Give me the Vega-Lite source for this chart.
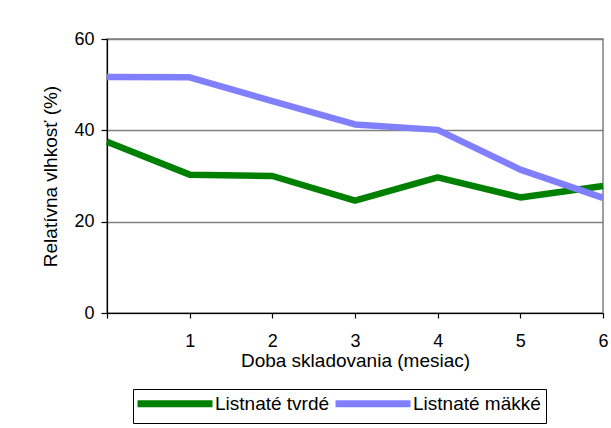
{
  "$schema": "https://vega.github.io/schema/vega-lite/v6.json",
  "width": 496,
  "height": 274,
  "autosize": {"type": "none"},
  "padding": {"left": 107, "top": 39, "right": 8, "bottom": 115},
  "background": "white",
  "config": {
    "font": "Liberation Sans",
    "view": {"stroke": "#808080", "strokeWidth": 1.5},
    "axis": {
      "labelFont": "Liberation Sans",
      "titleFont": "Liberation Sans",
      "labelFontSize": 18,
      "titleFontSize": 19,
      "titleFontWeight": "normal",
      "labelColor": "black",
      "titleColor": "black",
      "domainColor": "black",
      "tickColor": "black",
      "domainWidth": 1.2,
      "tickWidth": 1.2
    },
    "legend": {"labelFont": "Liberation Sans"}
  },
  "data": {
    "values": [
      {"mesiac": 0, "serie": "Listnaté tvrdé", "vlhkost": 37.5},
      {"mesiac": 1, "serie": "Listnaté tvrdé", "vlhkost": 30.3},
      {"mesiac": 2, "serie": "Listnaté tvrdé", "vlhkost": 30.0},
      {"mesiac": 3, "serie": "Listnaté tvrdé", "vlhkost": 24.6},
      {"mesiac": 4, "serie": "Listnaté tvrdé", "vlhkost": 29.7},
      {"mesiac": 5, "serie": "Listnaté tvrdé", "vlhkost": 25.3},
      {"mesiac": 6, "serie": "Listnaté tvrdé", "vlhkost": 27.8},
      {"mesiac": 0, "serie": "Listnaté mäkké", "vlhkost": 51.7},
      {"mesiac": 1, "serie": "Listnaté mäkké", "vlhkost": 51.6},
      {"mesiac": 2, "serie": "Listnaté mäkké", "vlhkost": 46.4},
      {"mesiac": 3, "serie": "Listnaté mäkké", "vlhkost": 41.3},
      {"mesiac": 4, "serie": "Listnaté mäkké", "vlhkost": 40.1},
      {"mesiac": 5, "serie": "Listnaté mäkké", "vlhkost": 31.4},
      {"mesiac": 6, "serie": "Listnaté mäkké", "vlhkost": 25.2}
    ]
  },
  "mark": {"type": "line", "strokeWidth": 6.5, "strokeJoin": "bevel"},
  "encoding": {
    "x": {
      "field": "mesiac",
      "type": "quantitative",
      "scale": {"domain": [0, 6], "nice": false, "zero": false},
      "axis": {
        "title": "Doba skladovania (mesiac)",
        "values": [0, 1, 2, 3, 4, 5, 6],
        "labelExpr": "datum.value == 0 ? '' : datum.label",
        "grid": false,
        "tickSize": 5,
        "labelPadding": 14,
        "titlePadding": 1,
        "labelFlush": false,
        "labelOverlap": false
      }
    },
    "y": {
      "field": "vlhkost",
      "type": "quantitative",
      "scale": {"domain": [0, 60], "nice": false},
      "axis": {
        "title": "Relatívna vlhkosť (%)",
        "values": [0, 20, 40, 60],
        "grid": true,
        "gridColor": "#808080",
        "gridWidth": 1.5,
        "gridOpacity": 1,
        "tickSize": 6,
        "labelPadding": 7,
        "titlePadding": 13
      }
    },
    "color": {
      "field": "serie",
      "type": "nominal",
      "sort": ["Listnaté tvrdé", "Listnaté mäkké"],
      "scale": {"domain": ["Listnaté tvrdé", "Listnaté mäkké"], "range": ["#008000", "#8080ff"]},
      "legend": {
        "title": null,
        "orient": "none",
        "legendX": 26,
        "legendY": 350,
        "direction": "horizontal",
        "symbolType": "M-2,0H13",
        "symbolSize": 100,
        "symbolStrokeWidth": 7,
        "labelFontSize": 19,
        "labelColor": "black",
        "labelOffset": 58,
        "columnPadding": -9,
        "padding": 5,
        "strokeColor": "black",
        "fillColor": "white"
      }
    }
  }
}
